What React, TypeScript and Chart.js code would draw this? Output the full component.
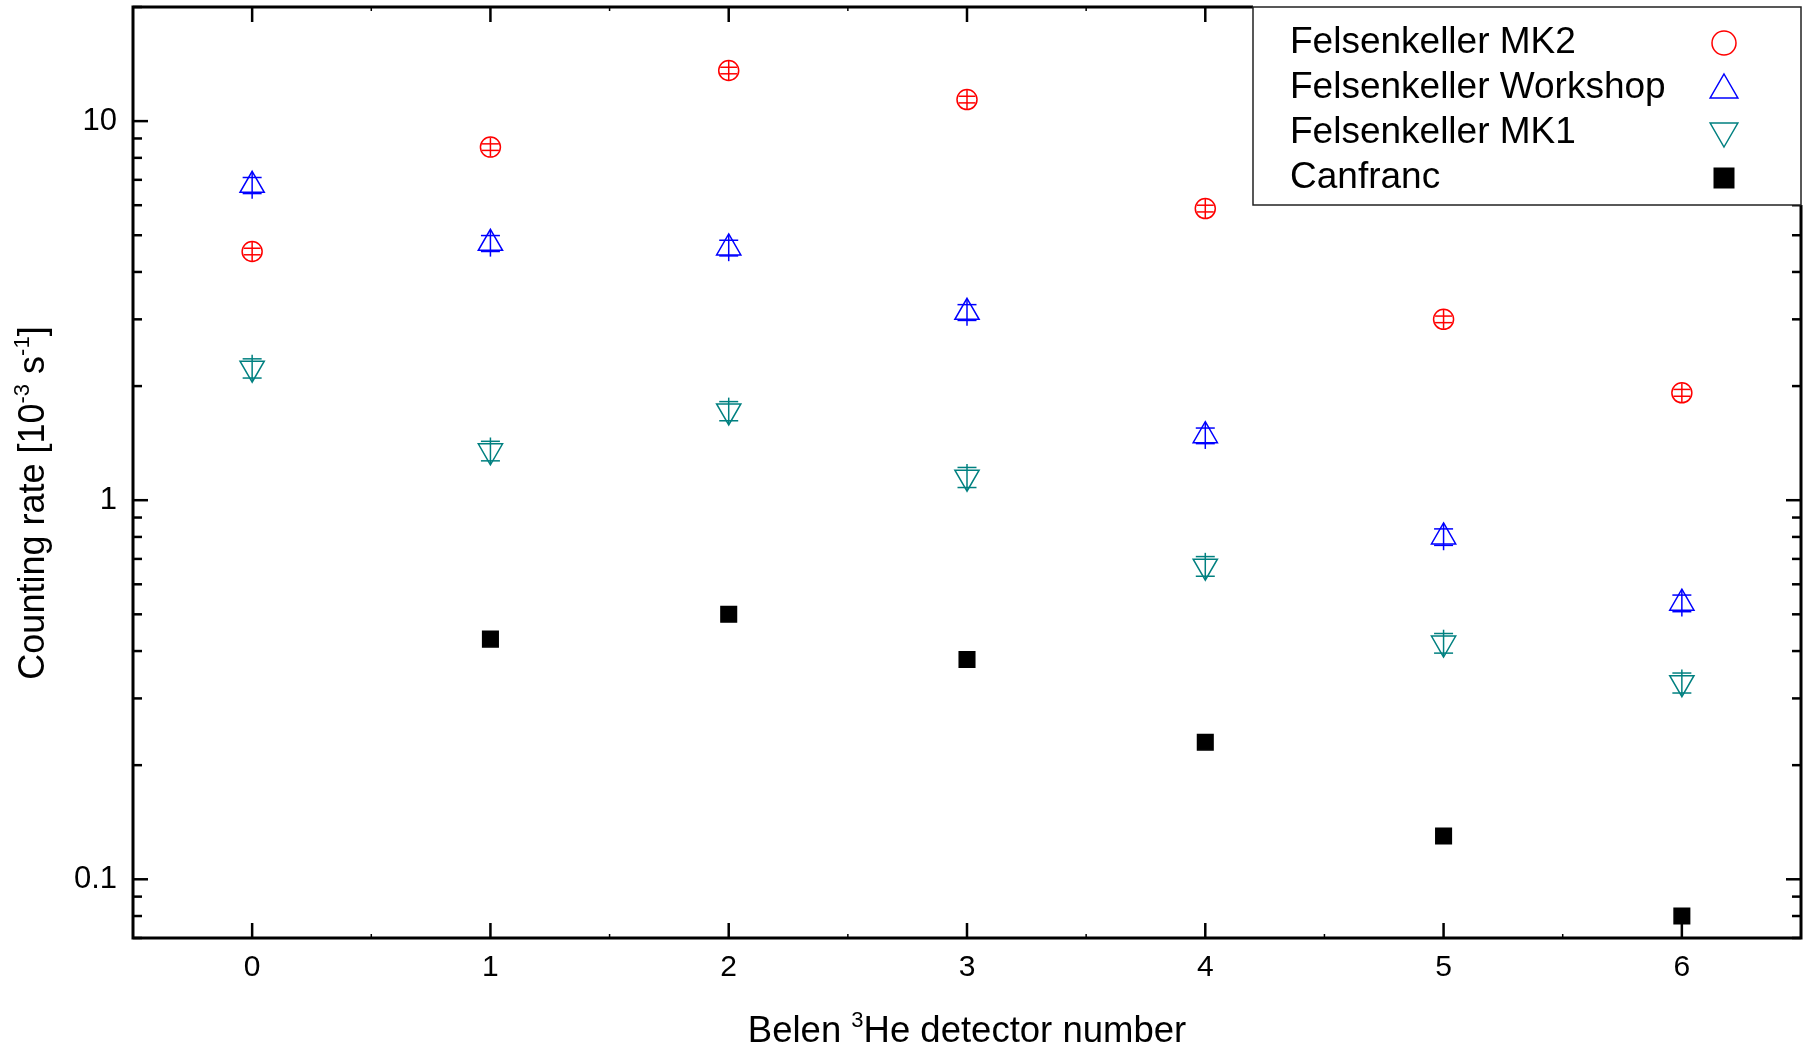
import React, { useEffect, useRef } from 'react';
import { Chart, registerables } from 'chart.js';

Chart.register(...registerables);

// ---------- data ----------
const detectors = [0, 1, 2, 3, 4, 5, 6];
const xTickLabels = ['0', '1', '2', '3', '4', '5', '6'];
const yTickValues = [0.1, 1, 10];
const yTickLabels = ['0.1', '1', '10'];
const seriesNames = ['Felsenkeller MK2', 'Felsenkeller Workshop', 'Felsenkeller MK1', 'Canfranc'];

const mk2 = [4.53, 8.54, 13.6, 11.4, 5.88, 3.0, 1.92];
const mk2Err = [0.09, 0.17, 0.27, 0.23, 0.12, 0.06, 0.04];
const workshop = [6.77, 4.76, 4.63, 3.13, 1.48, 0.8, 0.535];
const workshopErr = [0.33, 0.23, 0.22, 0.15, 0.07, 0.04, 0.027];
const mk1 = [2.23, 1.35, 1.72, 1.15, 0.67, 0.42, 0.33];
const mk1Err = [0.13, 0.08, 0.1, 0.07, 0.04, 0.025, 0.02];
const canfranc = [null, 0.43, 0.5, 0.38, 0.23, 0.13, 0.08];
const canfrancErr = [null, 0.01, 0.01, 0.01, 0.006, 0.004, 0.003];

const xMin = -0.5;
const xMax = 6.5;
const yMin = 0.07;
const yMax = 20;

const FONT = '"Liberation Sans", Arial, Helvetica, sans-serif';
const RED = '#ff0000';
const BLUE = '#0000ff';
const TEAL = '#008080';
const BLACK = '#000000';
const AREA_TOP = 7;

type Series = {
  name: string;
  values: (number | null)[];
  err: (number | null)[];
  color: string;
  style: string;
  rotation: number;
  radius: number;
  fill: boolean;
};

const seriesList: Series[] = [
  { name: seriesNames[0], values: mk2, err: mk2Err, color: RED, style: 'circle', rotation: 0, radius: 10, fill: false },
  { name: seriesNames[1], values: workshop, err: workshopErr, color: BLUE, style: 'triangle', rotation: 0, radius: 14, fill: false },
  { name: seriesNames[2], values: mk1, err: mk1Err, color: TEAL, style: 'triangle', rotation: 180, radius: 14, fill: false },
  { name: seriesNames[3], values: canfranc, err: canfrancErr, color: BLACK, style: 'rect', rotation: 0, radius: 11, fill: true },
];

function line(ctx: CanvasRenderingContext2D, x1: number, y1: number, x2: number, y2: number) {
  ctx.beginPath();
  ctx.moveTo(x1, y1);
  ctx.lineTo(x2, y2);
  ctx.stroke();
}

function drawMarker(ctx: CanvasRenderingContext2D, s: Series, x: number, y: number, r: number) {
  ctx.save();
  ctx.strokeStyle = s.color;
  ctx.fillStyle = s.color;
  ctx.lineWidth = 1.5;
  ctx.beginPath();
  if (s.style === 'circle') {
    ctx.arc(x, y, r, 0, Math.PI * 2);
    ctx.stroke();
  } else if (s.style === 'triangle') {
    const dir = s.rotation === 180 ? -1 : 1;
    ctx.moveTo(x, y - dir * r);
    ctx.lineTo(x + r * 0.866, y + dir * r * 0.5);
    ctx.lineTo(x - r * 0.866, y + dir * r * 0.5);
    ctx.closePath();
    ctx.stroke();
  } else {
    ctx.rect(x - r, y - r, 2 * r, 2 * r);
    ctx.fill();
  }
  ctx.restore();
}

function richWidth(ctx: CanvasRenderingContext2D, parts: [string, boolean][], size: number) {
  let w = 0;
  for (const [t, sup] of parts) {
    ctx.font = `${sup ? Math.round(size * 0.6) : size}px ${FONT}`;
    w += ctx.measureText(t).width;
  }
  return w;
}
function drawRich(ctx: CanvasRenderingContext2D, parts: [string, boolean][], x: number, y: number, size: number) {
  let cx = x;
  ctx.textBaseline = 'alphabetic';
  ctx.textAlign = 'left';
  for (const [t, sup] of parts) {
    ctx.font = `${sup ? Math.round(size * 0.6) : size}px ${FONT}`;
    ctx.fillText(t, cx, sup ? y - size * 0.42 : y);
    cx += ctx.measureText(t).width;
  }
}

const noPadding = () => ({ left: 0, top: 0, right: 0, bottom: 0 });

const decorPlugin = {
  id: 'decor',
  beforeDatasetsDraw(chart: any) {
    const ctx: CanvasRenderingContext2D = chart.ctx;
    const xs = chart.scales.x;
    const ys = chart.scales.y;
    seriesList.forEach((s) => {
      ctx.save();
      ctx.strokeStyle = s.color;
      ctx.lineWidth = 1.5;
      s.values.forEach((v, i) => {
        const e = s.err[i];
        if (v == null || e == null) return;
        const px = xs.getPixelForValue(detectors[i]);
        const yc = ys.getPixelForValue(v);
        const yHi = ys.getPixelForValue(v + e);
        const yLo = ys.getPixelForValue(v - e);
        const minStem = s.style === 'rect' ? 0 : s.radius * 0.95;
        const stemUp = Math.max(yc - yHi, minStem);
        const stemDn = Math.max(yLo - yc, minStem);
        line(ctx, px, yc - stemUp, px, yc + stemDn);
        const cap = s.style === 'circle' ? 8.5 : s.style === 'rect' ? 6 : 9.5;
        line(ctx, px - cap, yHi, px + cap, yHi);
        line(ctx, px - cap, yLo, px + cap, yLo);
      });
      ctx.restore();
    });
  },
  afterDraw(chart: any) {
    const ctx: CanvasRenderingContext2D = chart.ctx;
    const xs = chart.scales.x;
    const ys = chart.scales.y;
    const { left, right, top, bottom } = chart.chartArea;
    ctx.save();
    ctx.strokeStyle = BLACK;
    // ticks
    ctx.lineWidth = 2.5;
    detectors.forEach((v) => {
      const px = xs.getPixelForValue(v);
      line(ctx, px, bottom, px, bottom - 15);
      line(ctx, px, top, px, top + 15);
    });
    ctx.lineWidth = 1.5;
    for (let v = xMin + 1; v < xMax; v += 1) {
      const px = xs.getPixelForValue(v);
      line(ctx, px, bottom, px, bottom - 4);
      line(ctx, px, top, px, top + 4);
    }
    ctx.lineWidth = 2.5;
    yTickValues.forEach((v) => {
      const py = ys.getPixelForValue(v);
      line(ctx, left, py, left + 15, py);
      line(ctx, right, py, right - 15, py);
    });
    for (let d = 0.01; d <= 100; d *= 10) {
      for (let m = 2; m <= 9; m++) {
        const v = d * m;
        if (v < yMin || v > yMax) continue;
        const py = ys.getPixelForValue(v);
        line(ctx, left, py, left + 9, py);
        line(ctx, right, py, right - 9, py);
      }
    }
    // frame
    ctx.lineWidth = 3;
    ctx.strokeRect(left, top, right - left, bottom - top);

    // tick labels
    ctx.fillStyle = BLACK;
    ctx.font = `30px ${FONT}`;
    ctx.textAlign = 'center';
    ctx.textBaseline = 'middle';
    detectors.forEach((v, i) => {
      ctx.fillText(xTickLabels[i], xs.getPixelForValue(v), bottom + 30);
    });
    ctx.font = `31px ${FONT}`;
    ctx.textAlign = 'right';
    yTickValues.forEach((v, i) => {
      ctx.fillText(yTickLabels[i], left - 16, ys.getPixelForValue(v));
    });

    // legend
    const lgW = 548;
    const lgH = 198;
    const lx = right - lgW;
    const ly = top;
    ctx.fillStyle = '#ffffff';
    ctx.fillRect(lx, ly - 2, lgW + 2, lgH + 2);
    ctx.strokeStyle = '#222222';
    ctx.lineWidth = 1.5;
    ctx.strokeRect(lx, ly, lgW, lgH);
    const legendR = [12, 16, 16, 10.5];
    seriesList.forEach((s, i) => {
      const ry = ly + 36 + 45 * i;
      ctx.fillStyle = BLACK;
      ctx.font = `37px ${FONT}`;
      ctx.textAlign = 'left';
      ctx.textBaseline = 'middle';
      ctx.fillText(s.name, lx + 37, ry);
      drawMarker(ctx, s, right - 77, ry + (s.style === 'triangle' ? (s.rotation === 180 ? -2 : 2) : 0), legendR[i]);
    });

    // axis titles
    ctx.fillStyle = BLACK;
    const xParts: [string, boolean][] = [['Belen ', false], ['3', true], ['He detector number', false]];
    const xsz = 36.5;
    const xw = richWidth(ctx, xParts, xsz);
    drawRich(ctx, xParts, (left + right) / 2 - xw / 2, 1042, xsz);

    const yParts: [string, boolean][] = [
      ['Counting rate [10', false],
      ['-3', true],
      [' s', false],
      ['-1', true],
      [']', false],
    ];
    const ysz = 36;
    const yw = richWidth(ctx, yParts, ysz);
    ctx.save();
    ctx.translate(44, 503);
    ctx.rotate(-Math.PI / 2);
    drawRich(ctx, yParts, -yw / 2, 0, ysz);
    ctx.restore();
    ctx.restore();
  },
};

export default function App() {
  const ref = useRef<HTMLCanvasElement | null>(null);
  useEffect(() => {
    if (!ref.current) return;
    const datasets = seriesList.map((s) => ({
      label: s.name,
      data: detectors
        .map((x, i) => ({ x, y: s.values[i] }))
        .filter((p) => p.y != null),
      pointStyle: s.style,
      rotation: s.rotation,
      pointRadius: s.radius,
      pointHoverRadius: s.radius,
      pointBorderWidth: 1.5,
      borderColor: s.color,
      pointBorderColor: s.color,
      backgroundColor: s.fill ? s.color : 'rgba(0,0,0,0)',
      pointBackgroundColor: s.fill ? s.color : 'rgba(0,0,0,0)',
      showLine: false,
    }));
    const chart = new Chart(ref.current, {
      type: 'scatter',
      data: { datasets } as any,
      plugins: [decorPlugin],
      options: {
        animation: false,
        responsive: true,
        maintainAspectRatio: false,
        layout: { autoPadding: false, padding: { left: 0, top: AREA_TOP, right: 13, bottom: 0 } },
        plugins: { legend: { display: false }, tooltip: { enabled: false } },
        scales: {
          x: {
            type: 'linear',
            min: xMin,
            max: xMax,
            grid: { display: false, drawTicks: false },
            border: { display: false },
            ticks: { display: false },
            afterFit: (scale: any) => {
              scale.height = 110;
              scale.getPadding = noPadding;
            },
          },
          y: {
            type: 'logarithmic',
            min: yMin,
            max: yMax,
            grid: { display: false, drawTicks: false },
            border: { display: false },
            ticks: { display: false },
            afterFit: (scale: any) => {
              scale.width = 133;
              scale.paddingTop = 0;
              scale.paddingBottom = 0;
              scale.getPadding = noPadding;
            },
          },
        },
      } as any,
    });
    return () => chart.destroy();
  }, []);
  return (
    <div style={{ position: 'absolute', left: 0, top: 0, width: 1814, height: 1048, background: '#fff' }}>
      <canvas ref={ref} style={{ width: '100%', height: '100%' }} />
    </div>
  );
}
